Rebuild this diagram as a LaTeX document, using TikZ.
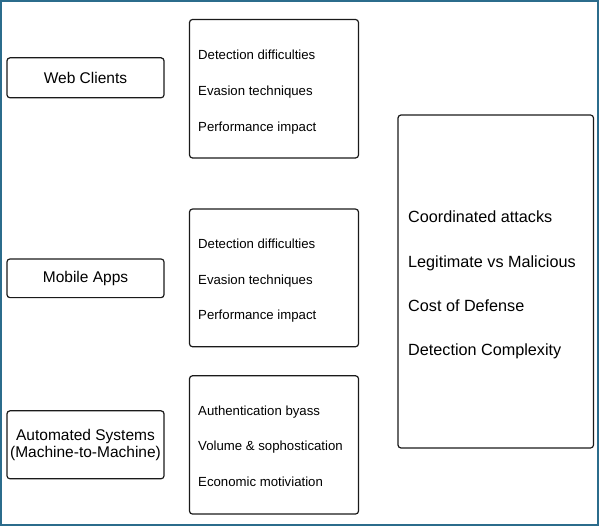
\documentclass[tikz,border=0pt]{standalone}
\usepackage{fontspec}
\setmainfont{Liberation Sans}
\definecolor{framecol}{HTML}{2B6C8C}
\definecolor{linecol}{HTML}{1A1A1A}
\begin{document}
\begin{tikzpicture}[x=1pt,y=-1pt,
  box/.style={draw=linecol,line width=1.2pt,rounded corners=3pt,inner sep=0pt,outer sep=0pt},
  srcbox/.style={box,minimum width=157pt,align=center,font=\fontsize{15.5}{16.5}\selectfont},
  listbox/.style={box,minimum width=169pt,minimum height=138pt},
  item/.style={anchor=west,inner sep=0pt,font=\fontsize{13.2}{15}\selectfont,text height=9.5pt,text depth=0pt},
  bigitem/.style={anchor=west,inner sep=0pt,font=\fontsize{16.2}{18}\selectfont,text height=11.6pt,text depth=0pt}]
\useasboundingbox (0,0) rectangle (599,526);
\draw[framecol,line width=2pt] (1,1) rectangle (597.5,524.5);

% source boxes
\node[srcbox,minimum height=40pt] (web) at (85.5,77.8) {Web Clients};
\node[srcbox,minimum height=38.7pt] (mobile) at (85.5,278.3) {Mobile Apps};
\node[srcbox,minimum height=68pt] (auto) at (85.5,444.8) {Automated Systems\\(Machine-to-Machine)};

% list boxes
\node[listbox,minimum height=138.5pt] (l1) at (274,88.75) {};
\node[listbox,minimum height=137.7pt] (l2) at (274,277.9) {};
\node[listbox,minimum height=138.3pt] (l3) at (274,444.9) {};

\node[item] (t11) at (198,55) {Detection difficulties};
\node[item] (t12) at (198,91) {Evasion techniques};
\node[item] (t13) at (198,127) {Performance impact};

\node[item] (t21) at (198,244) {Detection difficulties};
\node[item] (t22) at (198,279.3) {Evasion techniques};
\node[item] (t23) at (198,315) {Performance impact};

\node[item] (t31) at (198,410.7) {Authentication byass};
\node[item] (t32) at (198,446) {Volume \& sophostication};
\node[item] (t33) at (198,481.5) {Economic motiviation};

% big box
\node[box,minimum width=195.5pt,minimum height=333pt] (big) at (495.75,281.5) {};
\node[bigitem] (b1) at (408,217) {Coordinated attacks};
\node[bigitem] (b2) at (408,262) {Legitimate vs Malicious};
\node[bigitem] (b3) at (408,306) {Cost of Defense};
\node[bigitem] (b4) at (408,350) {Detection Complexity};
\end{tikzpicture}
\end{document}
